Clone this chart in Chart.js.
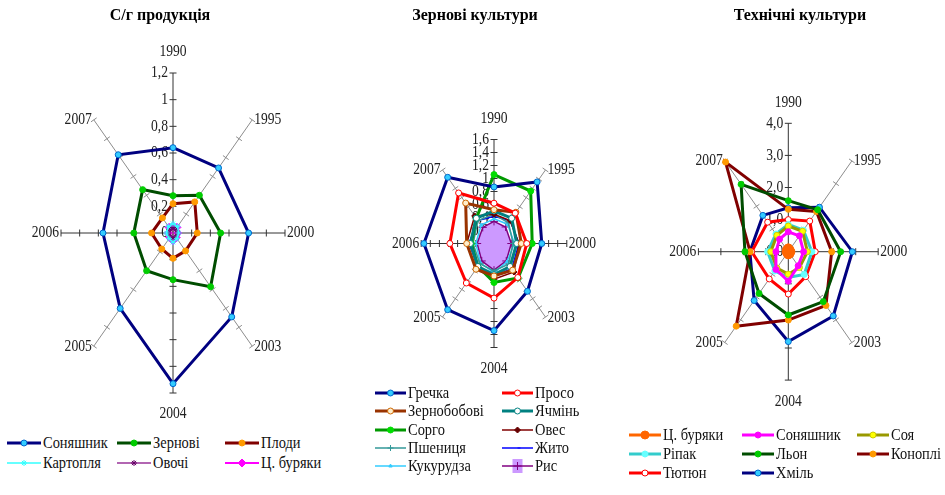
<!DOCTYPE html>
<html lang="uk">
<head>
<meta charset="utf-8">
<title>С/г продукція, зернові та технічні культури</title>
<script src="https://cdn.jsdelivr.net/npm/chart.js@4.4.1/dist/chart.umd.min.js"></script>
<style>
  html, body { margin: 0; padding: 0; background: #fff; overflow: hidden; }
  body { position: relative; width: 945px; height: 495px; font-family: "Liberation Serif", "DejaVu Serif", serif; }
  .box { position: absolute; top: 0; height: 430px; }
  .legend { position: absolute; display: grid; }
  .item { display: flex; align-items: center; white-space: nowrap; }
  .item canvas { margin-right: 2px; }
  .item span {
    display: inline-block; font-family: "Liberation Serif", "DejaVu Serif", serif; font-size: 17px;
    color: #111; transform: scaleX(0.85); transform-origin: left center;
  }
</style>
</head>
<body>
<div class="box" style="left:0;width:320px"><canvas id="c1"></canvas></div>
<div class="box" style="left:315px;width:320px"><canvas id="c2"></canvas></div>
<div class="box" style="left:655px;width:290px"><canvas id="c3"></canvas></div>
<div class="legend" id="leg1" style="left:7px;top:433px;grid-auto-rows:20px"></div>
<div class="legend" id="leg2" style="left:375px;top:384px;grid-auto-rows:18.3px"></div>
<div class="legend" id="leg3" style="left:629px;top:426px;grid-auto-rows:18.8px"></div>
<script>
// axes (years) shared by all three charts
const years = ["1990", "1995", "2000", "2003", "2004", "2005", "2006", "2007"];

// С/г продукція
const sunflowerAgro = [0.64, 0.69, 0.81, 0.89, 1.13, 0.80, 0.75, 0.83];
const grainAgro     = [0.28, 0.40, 0.51, 0.57, 0.35, 0.40, 0.42, 0.46];
const fruitAgro     = [0.22, 0.33, 0.26, 0.19, 0.19, 0.17, 0.23, 0.16];
const potatoAgro    = [0.07, 0.07, 0.06, 0.06, 0.07, 0.06, 0.07, 0.07];
const vegAgro       = [0.04, 0.04, 0.05, 0.04, 0.04, 0.04, 0.05, 0.04];
const beetAgro      = [0.05, 0.06, 0.05, 0.05, 0.06, 0.05, 0.05, 0.06];
const agroTicks = { max: 1.2, step: 0.2 };

// Зернові культури
const buckwheat = [0.87, 1.34, 1.05, 1.04, 1.34, 1.44, 1.54, 1.44];
const millet    = [0.62, 0.66, 0.72, 0.74, 0.84, 0.86, 0.97, 1.10];
const legumes   = [0.52, 0.68, 0.60, 0.58, 0.50, 0.56, 0.60, 0.88];
const barley    = [0.50, 0.55, 0.50, 0.50, 0.48, 0.50, 0.52, 0.55];
const sorghum   = [1.06, 1.14, 0.84, 0.75, 0.60, 0.50, 0.50, 0.55];
const oats      = [0.45, 0.50, 0.55, 0.62, 0.55, 0.55, 0.60, 0.60];
const wheat     = [0.45, 0.45, 0.42, 0.45, 0.42, 0.44, 0.46, 0.50];
const rye       = [0.42, 0.50, 0.55, 0.55, 0.50, 0.50, 0.55, 0.50];
const maize     = [0.38, 0.42, 0.45, 0.40, 0.45, 0.42, 0.40, 0.40];
const rice      = [0.34, 0.36, 0.38, 0.38, 0.41, 0.38, 0.37, 0.35];
const grainTicks = { max: 1.6, step: 0.2 };

// Технічні культури
const beetTech      = [0.12, 0.10, 0.12, 0.10, 0.10, 0.08, 0.10, 0.10];
const sunflowerTech = [0.62, 0.70, 0.68, 0.62, 0.92, 0.78, 0.55, 0.55];
const soy           = [0.80, 0.90, 0.85, 0.70, 0.70, 0.72, 0.78, 0.72];
const rapeseed      = [0.85, 0.95, 1.05, 1.00, 0.80, 0.85, 0.92, 0.78];
const flax          = [1.59, 1.85, 2.33, 2.20, 1.97, 1.84, 1.93, 2.97];
const hemp          = [1.32, 1.77, 1.93, 2.37, 2.13, 3.28, 1.70, 3.95];
const tobacco       = [1.00, 1.35, 1.20, 1.10, 1.32, 1.20, 1.63, 1.30];
const hops          = [1.37, 1.96, 2.85, 2.83, 2.80, 2.15, 1.71, 1.60];
const techTicks = { max: 4, step: 1 };

const SX = 0.7;  // the radar is narrower than it is tall
const TX = 0.8;  // narrow serif text like the original

Chart.defaults.font.family = '"Liberation Serif", serif';
Chart.defaults.color = '#111';

function series(label, data, color, width, marker, style = {}) {
  return Object.assign({
    label, data,
    borderColor: color,
    borderWidth: width,
    fill: false,
    clip: false,
    pointStyle: 'circle',
    pointRadius: 3,
    pointBackgroundColor: marker,
    pointBorderColor: marker,
    pointBorderWidth: 1,
  }, style);
}

// elliptic radar: squash x of every position the scale gives out
function squeeze(scale) {
  scale.getPointPosition = function (index, dist, extra = 0) {
    const a = this.getIndexAngle(index) - Math.PI / 2 + extra;
    return { x: Math.cos(a) * dist * SX + this.xCenter, y: Math.sin(a) * dist + this.yCenter, angle: a };
  };
}

function narrowText(ctx, txt, x, y, align) {
  ctx.save();
  ctx.translate(x, y);
  ctx.scale(TX, 1);
  ctx.textAlign = align;
  ctx.fillText(txt, 0, 0);
  ctx.restore();
}

// tick marks on the spokes, value labels on the 1990 spoke, year labels
const axisText = {
  id: 'axisText',
  beforeDatasetsDraw(chart, args, opts) {
    const s = chart.scales.r;
    const ctx = chart.ctx;
    const n = chart.data.labels.length;
    ctx.save();
    ctx.lineWidth = 1;
    s.ticks.forEach(t => {
      if (t.value <= s.min) return;
      for (let i = 0; i < n; i++) {
        const p = s.getPointPositionForValue(i, t.value);
        const a = s.getIndexAngle(i) - Math.PI / 2;
        let dx = Math.cos(a) * SX, dy = Math.sin(a);
        const len = Math.hypot(dx, dy);
        dx /= len; dy /= len;
        ctx.strokeStyle = i % 2 ? '#8c8c8c' : '#333';
        ctx.beginPath();
        ctx.moveTo(p.x - dy * 3.5, p.y + dx * 3.5);
        ctx.lineTo(p.x + dy * 3.5, p.y - dx * 3.5);
        ctx.stroke();
      }
    });
    ctx.font = '17px "Liberation Serif"';
    ctx.fillStyle = '#222';
    ctx.textBaseline = 'middle';
    s.ticks.forEach(t => {
      const p = s.getPointPositionForValue(0, t.value);
      narrowText(ctx, opts.fmt(t.value), p.x - 5, p.y, 'right');
    });
    for (let i = 0; i < n; i++) {
      const p = s.getPointPosition(i, s.drawingArea);
      const a = s.getIndexAngle(i) - Math.PI / 2;
      const c = Math.cos(a);
      if (Math.abs(c) < 0.01) {
        narrowText(ctx, chart.data.labels[i], p.x, p.y + (Math.sin(a) > 0 ? 21 : -21), 'center');
      } else {
        narrowText(ctx, chart.data.labels[i], p.x + (c > 0 ? 2 : -2), p.y, c > 0 ? 'left' : 'right');
      }
    }
    ctx.restore();
  }
};

function radar(id, title, datasets, ticks, geo, fmt) {
  return new Chart(document.getElementById(id), {
    type: 'radar',
    data: { labels: years, datasets },
    plugins: [axisText],
    options: {
      responsive: true,
      maintainAspectRatio: false,
      animation: false,
      events: [],
      plugins: {
        legend: { display: false },
        tooltip: { enabled: false },
        title: {
          display: true,
          text: title,
          color: '#000',
          font: { size: 16, weight: 'bold' },
          padding: { top: 6, bottom: 4 }
        },
        axisText: { fmt }
      },
      scales: {
        r: {
          min: 0,
          max: ticks.max,
          ticks: { display: false, stepSize: ticks.step },
          grid: { display: false },
          pointLabels: { display: false },
          angleLines: { color: c => (c.index % 2 ? '#8c8c8c' : '#333'), lineWidth: 1 },
          afterFit(s) {
            s.xCenter = geo.cx;
            s.yCenter = geo.cy;
            s.drawingArea = geo.r;
            squeeze(s);
          }
        }
      }
    }
  });
}

function buildLegend(id, chart, cols, symW) {
  const el = document.getElementById(id);
  el.style.gridTemplateColumns = cols.map(c => c + 'px').join(' ');
  chart.data.datasets.forEach(ds => {
    const item = document.createElement('div');
    item.className = 'item';
    const cv = document.createElement('canvas');
    cv.width = symW;
    cv.height = 16;
    const g = cv.getContext('2d');
    const mid = symW / 2;
    if (ds.fill) {
      g.fillStyle = ds.backgroundColor;
      g.fillRect(mid - 5, 1, 10, 14);
    }
    g.strokeStyle = ds.borderColor;
    g.lineWidth = ds.borderWidth;
    g.beginPath();
    g.moveTo(0, 8);
    g.lineTo(symW, 8);
    g.stroke();
    g.fillStyle = ds.pointBackgroundColor;
    g.strokeStyle = ds.pointBorderColor;
    g.lineWidth = ds.pointBorderWidth;
    Chart.helpers.drawPoint(g, { pointStyle: ds.pointStyle, radius: ds.pointRadius, rotation: 0, borderWidth: ds.pointBorderWidth }, mid, 8);
    const tx = document.createElement('span');
    tx.textContent = ds.label;
    item.appendChild(cv);
    item.appendChild(tx);
    el.appendChild(item);
  });
}

const comma1 = v => String(+v.toFixed(1)).replace('.', ',');
const comma1f = v => v.toFixed(1).replace('.', ',');

const chartAgro = radar('c1', 'С/г продукція', [
  series('Соняшник', sunflowerAgro, '#000080', 3, '#33ccff', { pointBorderColor: '#0066cc' }),
  series('Зернові', grainAgro, '#004d00', 3, '#00cc00'),
  series('Плоди', fruitAgro, '#800000', 3, '#ff9900'),
  series('Картопля', potatoAgro, '#33ffff', 1.5, '#33ffff', { pointStyle: 'star', pointRadius: 3 }),
  series('Овочі', vegAgro, '#993399', 1.5, '#660066', { pointStyle: 'star', pointRadius: 3 }),
  series('Ц. буряки', beetAgro, '#ff00ff', 2, '#ff00ff', { pointStyle: 'rectRot', pointRadius: 4 })
], agroTicks, { cx: 173, cy: 233, r: 160 }, comma1);

const chartGrain = radar('c2', 'Зернові культури', [
  series('Гречка', buckwheat, '#000080', 3, '#33ccff', { pointBorderColor: '#0066cc' }),
  series('Просо', millet, '#ff0000', 3, '#ffffff', { pointBorderColor: '#ff0000' }),
  series('Зернобобові', legumes, '#993300', 3, '#ffeecc', { pointBorderColor: '#cc6600' }),
  series('Ячмінь', barley, '#008080', 3, '#ffffff', { pointBorderColor: '#008080' }),
  series('Сорго', sorghum, '#009900', 3, '#00dd00'),
  series('Овес', oats, '#800000', 1.5, '#660000', { pointStyle: 'rectRot', pointRadius: 3 }),
  series('Пшениця', wheat, '#339999', 1.5, '#339999', { pointStyle: 'cross', pointRadius: 3 }),
  series('Жито', rye, '#0000ff', 1.5, '#0000ff', { pointStyle: 'dash', pointRadius: 3 }),
  series('Кукурудза', maize, '#33ccff', 1.5, '#33ccff', { pointStyle: 'triangle', pointRadius: 2 }),
  series('Рис', rice, '#800080', 1.5, '#800080', { pointStyle: 'cross', pointRadius: 4, fill: true, backgroundColor: '#cc99ff' })
], grainTicks, { cx: 179, cy: 243.5, r: 104 }, comma1);

const chartTech = radar('c3', 'Технічні культури', [
  series('Ц. буряки', beetTech, '#ff6600', 3, '#ff6600', { pointRadius: 4 }),
  series('Соняшник', sunflowerTech, '#ff00ff', 3, '#ff00ff'),
  series('Соя', soy, '#999900', 3, '#ffff00', { pointBorderColor: '#cccc00' }),
  series('Ріпак', rapeseed, '#33cccc', 3, '#66ffff'),
  series('Льон', flax, '#004d00', 3, '#00cc00'),
  series('Коноплі', hemp, '#800000', 3, '#ff9900'),
  series('Тютюн', tobacco, '#ff0000', 3, '#ffffff', { pointBorderColor: '#ff0000' }),
  series('Хміль', hops, '#000080', 3, '#33ccff', { pointBorderColor: '#0066cc' })
], techTicks, { cx: 133.3, cy: 251.7, r: 128.4 }, comma1f);

buildLegend('leg1', chartAgro, [110, 108, 110], 34);
buildLegend('leg2', chartGrain, [127, 112], 31);
buildLegend('leg3', chartTech, [113, 115, 90], 32);
</script>
</body>
</html>
